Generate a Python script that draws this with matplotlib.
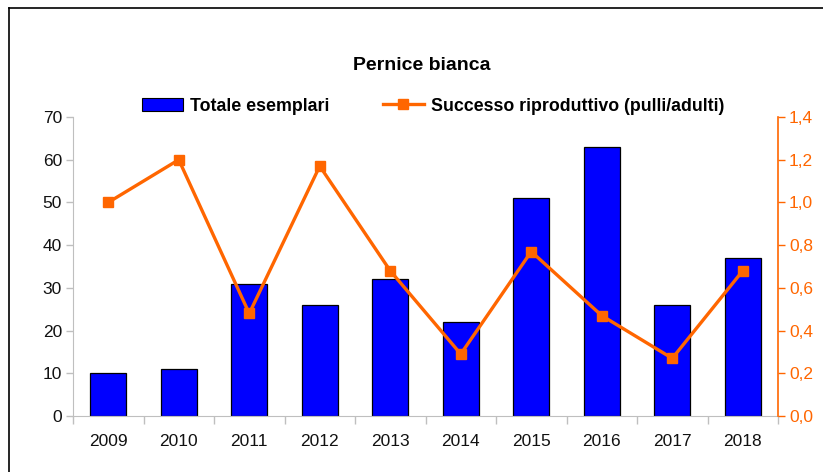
import matplotlib.pyplot as plt
from matplotlib.lines import Line2D
from matplotlib.patches import Patch
from matplotlib.ticker import FixedLocator, FuncFormatter

plt.rcParams['font.family'] = ['Liberation Sans', 'DejaVu Sans']

anni = ['2009', '2010', '2011', '2012', '2013', '2014', '2015', '2016', '2017', '2018']
totale = [10, 11, 31, 26, 32, 22, 51, 63, 26, 37]
successo = [1.0, 1.2, 0.48, 1.17, 0.68, 0.29, 0.77, 0.47, 0.27, 0.68]

blu = '#0000FF'
arancio = '#FF6600'
grigio = '#BFBFBF'

fig = plt.figure(figsize=(8.23, 4.72), dpi=100)
W, H = 823, 472
ax = fig.add_axes([73 / W, 1 - 416 / H, (778 - 73) / W, (416 - 117) / H])
ax2 = ax.twinx()

x = list(range(len(anni)))
ax.bar(x, totale, width=0.51, color=blu, edgecolor='black', linewidth=0.9, zorder=2)
ax2.plot(x, successo, color=arancio, linewidth=2.4, marker='s', markersize=7,
         markeredgecolor=arancio, zorder=3)

ax.set_xlim(-0.5, len(anni) - 0.5)
ax.set_ylim(0, 70)
ax2.set_ylim(0, 1.4)
ax.set_yticks(range(0, 71, 10))
ax2.set_yticks([i * 0.2 for i in range(8)])
ax2.yaxis.set_major_formatter(FuncFormatter(lambda v, p: f'{v:.1f}'.replace('.', ',')))

ax.set_xticks(x)
ax.set_xticklabels(anni)
ax.tick_params(axis='x', which='major', length=0, pad=13, labelsize=12.5, labelcolor='#111111')
ax.xaxis.set_minor_locator(FixedLocator([i - 0.5 for i in range(len(anni) + 1)]))
ax.tick_params(axis='x', which='minor', length=6, color=grigio, width=1)
ax.tick_params(axis='y', length=5, color=grigio, width=1, labelsize=12.5, labelcolor='#111111', pad=3)
ax2.tick_params(axis='y', length=5, color=arancio, width=1, labelsize=12.5, labelcolor=arancio, pad=3)

for a in (ax, ax2):
    a.spines['top'].set_visible(False)
ax.spines['left'].set_color(grigio)
ax.spines['bottom'].set_color(grigio)
ax.spines['right'].set_visible(False)
ax2.spines['left'].set_visible(False)
ax2.spines['bottom'].set_visible(False)
ax2.spines['right'].set_color(arancio)
ax2.spines['right'].set_linewidth(1.2)

fig.text(422 / W, 1 - 65 / H, 'Pernice bianca', ha='center', va='center',
         fontsize=14, fontweight='bold')

handles = [Patch(facecolor=blu, edgecolor='black', linewidth=0.8),
           Line2D([], [], color=arancio, linewidth=2.4, marker='s', markersize=7)]
fig.legend(handles, ['Totale esemplari', 'Successo riproduttivo (pulli/adulti)'],
           loc='center', bbox_to_anchor=(433 / W, 1 - 106 / H), ncol=2, frameon=False,
           prop={'weight': 'bold', 'size': 12.8}, handlelength=2.3, handleheight=0.8,
           handletextpad=0.4, columnspacing=3.0, borderpad=0, borderaxespad=0)

# cornice del grafico
fig.add_artist(Line2D([9 / W, 9 / W], [0, 1 - 8 / H], color='black', linewidth=1.2,
                      transform=fig.transFigure))
fig.add_artist(Line2D([9 / W, 1], [1 - 8 / H, 1 - 8 / H], color='black', linewidth=1.2,
                      transform=fig.transFigure))

fig.savefig('out.png', dpi=100)
